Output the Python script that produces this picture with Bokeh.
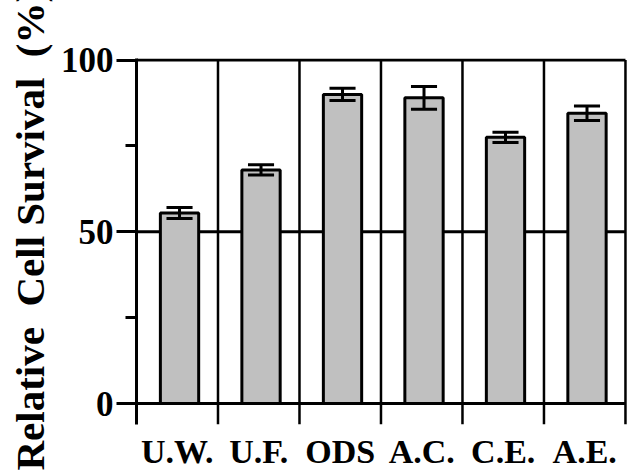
from bokeh.plotting import figure
from bokeh.models import Range1d, FixedTicker, Title
from bokeh.embed import file_html
from bokeh.resources import INLINE

categories = ["U.W.", "U.F.", "ODS", "A.C.", "C.E.", "A.E."]
survival = [55.5, 68.0, 90.0, 89.0, 77.5, 84.5]
errors = [1.6, 1.5, 1.8, 3.3, 1.5, 2.1]
y_ticks = [0, 50, 100]
y_minor_ticks = [25, 75]
y_label = "Relative\u00a0 Cell Survival\u00a0 (%)"

FONT = "Liberation Serif"
n = len(categories)
centers = [i + 0.5 for i in range(n)]
bar_x = [c + 0.028 for c in centers]
y_bottom = -6.1

p = figure(title=None, frame_width=491, frame_height=366,
           x_range=Range1d(0, n + 0.025), y_range=Range1d(y_bottom, 100.45),
           output_backend="svg", toolbar_location=None,
           min_border_left=127, min_border_right=1, min_border_top=58,
           min_border_bottom=0)
p.xgrid.visible = False
p.ygrid.visible = False
p.outline_line_color = None
p.background_fill_color = "white"
p.border_fill_color = "white"

# y axis
yax = p.yaxis[0]
yax.ticker = FixedTicker(ticks=y_ticks, minor_ticks=y_minor_ticks)
yax.axis_line_width = 3
yax.axis_line_color = "black"
yax.major_tick_line_width = 3
yax.minor_tick_line_width = 3
yax.major_tick_out = 20
yax.major_tick_in = 0
yax.minor_tick_out = 11
yax.minor_tick_in = 0
yax.major_label_text_font = FONT
yax.major_label_text_font_size = "35px"
yax.major_label_text_font_style = "bold"
yax.major_label_text_color = "black"
yax.major_label_standoff = 3

# x axis (category labels only)
xax = p.xaxis[0]
xax.ticker = FixedTicker(ticks=centers, minor_ticks=[])
xax.major_label_overrides = {c: lab for c, lab in zip(centers, categories)}
xax.axis_line_color = None
xax.major_tick_line_color = None
xax.minor_tick_line_color = None
xax.major_tick_out = 0
xax.major_tick_in = 0
xax.major_label_text_font = FONT
xax.major_label_text_font_size = "34px"
xax.major_label_text_font_style = "bold"
xax.major_label_text_color = "black"
xax.major_label_standoff = 8

# horizontal lines at major ticks
p.segment(x0=[0] * len(y_ticks), x1=[n] * len(y_ticks), y0=y_ticks, y1=y_ticks,
          line_color="black", line_width=3)
# vertical dividers / bottom ticks
div_x = list(range(1, n + 1))
p.segment(x0=div_x, x1=div_x, y0=[y_bottom] * n, y1=[100] * n,
          line_color="black", line_width=2.5)

# bars
p.vbar(x=bar_x, top=survival, bottom=0, width=0.47,
       fill_color="#c0c0c0", line_color="black", line_width=3)

# error bars
lo = [v - e for v, e in zip(survival, errors)]
hi = [v + e for v, e in zip(survival, errors)]
p.segment(x0=bar_x, x1=bar_x, y0=lo, y1=hi, line_color="black", line_width=3)
cap = 0.16
p.segment(x0=[x - cap for x in bar_x], x1=[x + cap for x in bar_x], y0=hi, y1=hi,
          line_color="black", line_width=3)
p.segment(x0=[x - cap for x in bar_x], x1=[x + cap for x in bar_x], y0=lo, y1=lo,
          line_color="black", line_width=3)

t = Title(text=y_label, align="left", offset=-46, text_font=FONT,
          text_font_size="41px", text_font_style="bold", text_color="black",
          standoff=9)
p.add_layout(t, "left")

open("out.html", "w").write(file_html(p, INLINE))
